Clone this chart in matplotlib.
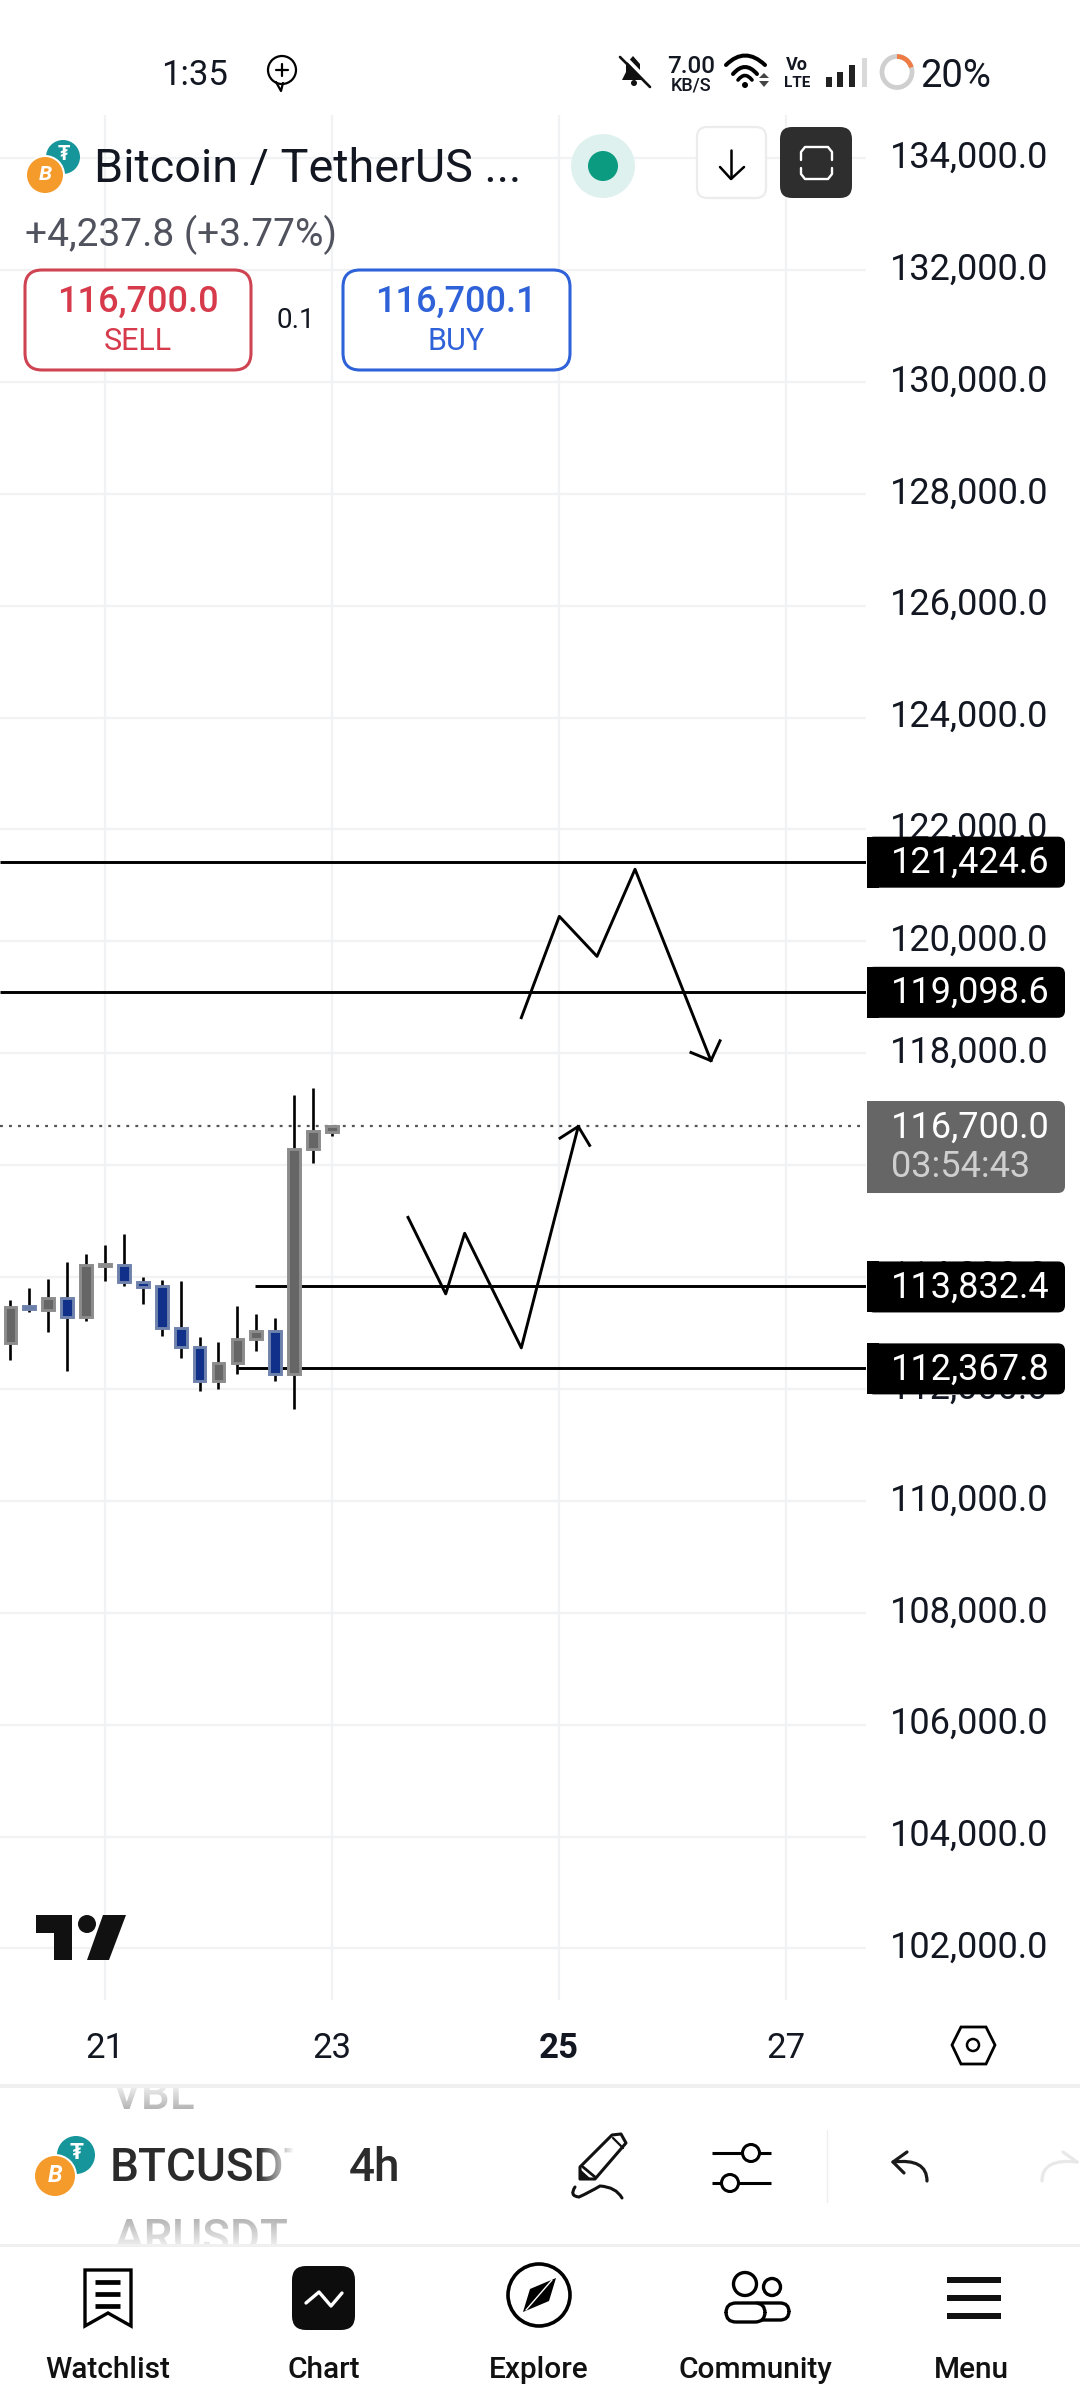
import numpy as np
import matplotlib
matplotlib.use('Agg')
import matplotlib.pyplot as plt
from matplotlib.patches import Circle, Ellipse, FancyBboxPatch, Polygon, Rectangle, Arc, PathPatch
from matplotlib.path import Path
from matplotlib.transforms import ScaledTranslation

plt.rcParams['font.family'] = ['Roboto', 'DejaVu Sans']

# candle data (4h)
candle_days = [20.1667, 20.3333, 20.5, 20.6667, 20.8333, 21.0, 21.1667, 21.3333, 21.5,
               21.6667, 21.8333, 22.0, 22.1667, 22.3333, 22.5, 22.6667, 22.8333, 23.0]
opens = [112820, 113480, 113420, 113623, 113284, 114199, 114211, 113908, 113837,
         113088, 112749, 112143, 112464, 112892, 113034, 112267, 116297, 116600]
highs = [113593, 113801, 113967, 114264, 114413, 114574, 114770, 113997, 113944,
         113932, 112933, 112844, 113486, 113343, 113272, 117248, 117385, 116713]
lows = [112511, 113367, 113010, 112315, 113207, 113938, 113848, 113527, 112939,
        112547, 111958, 112000, 112273, 112672, 112137, 111643, 116042, 116523]
closes = [113462, 113438, 113623, 113284, 114211, 114229, 113908, 113831, 113088,
          112749, 112143, 112464, 112892, 113034, 112267, 116297, 116606, 116695]

# horizontal levels drawn by the user
level_prices = [121424.6, 119098.6, 113832.4, 112367.8]
level_labels = ['121,424.6', '119,098.6', '113,832.4', '112,367.8']
level_starts = [20.075, 20.075, 22.32, 22.17]
last_price = 116700.0
last_label = '116,700.0'
countdown = '03:54:43'

# the two hand drawn paths with their arrow heads
up_path_days = [23.67, 24.002, 24.169, 24.668, 25.17]
up_path_prices = [115067, 113700, 114783, 112735, 116692]
up_head_days = [25.009, 25.17, 25.27]
up_head_prices = [116483, 116692, 116354]
down_path_days = [24.668, 25.003, 25.335, 25.67, 26.339]
down_path_prices = [118636, 120447, 119732, 121289, 117868]
down_head_days = [26.163, 26.339, 26.419]
down_head_prices = [118014, 117868, 118223]

price_ticks = list(range(102000, 136000, 2000))
day_ticks = [21, 23, 25, 27]
nav_labels = ['Watchlist', 'Chart', 'Explore', 'Community', 'Menu']

INK = '#131722'
UP_BODY, UP_EDGE = '#666666', '#8c8c8c'
DOWN_BODY, DOWN_EDGE = '#10308a', '#6f82ac'

fig = plt.figure(figsize=(10.8, 24), dpi=100, facecolor='white')

# price chart
ax = fig.add_axes([0, 400 / 2400, 866 / 1080, 1885 / 2400])
ax.set_xlim(20.075, 27.705)
ax.set_ylim(101079, 134770)
for spine in ax.spines.values():
    spine.set_visible(False)
ax.grid(True, color='#f1f2f4', linewidth=1.6)
ax.set_axisbelow(True)
ax.yaxis.tick_right()
ax.set_yticks(price_ticks)
ax.set_yticklabels([f'{p:,.1f}' for p in price_ticks])
ax.set_xticks(day_ticks)
ax.set_xticklabels([str(d) for d in day_ticks])
ax.tick_params(axis='y', length=0, pad=17.5, labelsize=26, labelcolor=INK)
ax.tick_params(axis='x', length=0, pad=23, labelsize=25, labelcolor=INK)
ax.get_xticklabels()[2].set_fontweight('bold')
# tick labels sit a little higher than matplotlib centres them
lift = ScaledTranslation(0, 3.2 / 72, fig.dpi_scale_trans)
for tick_label in ax.get_yticklabels():
    tick_label.set_transform(tick_label.get_transform() + lift)

for i, level in enumerate(level_prices):
    ax.hlines(level, level_starts[i], 27.705, color='black', linewidth=2.1, zorder=3)
ax.hlines(last_price, 20.075, 27.705, color='#555555', linewidth=1.6,
          linestyles=(0, (1.3, 2.76)), zorder=3)

for i in range(len(candle_days)):
    is_up = closes[i] >= opens[i]
    ax.vlines(candle_days[i], lows[i], highs[i], color='black', linewidth=1.9, zorder=4)
    ax.bar(candle_days[i], abs(closes[i] - opens[i]), bottom=min(opens[i], closes[i]),
           width=0.103, color=UP_BODY if is_up else DOWN_BODY,
           edgecolor=UP_EDGE if is_up else DOWN_EDGE, linewidth=2.1, zorder=5)

ax.plot(up_path_days, up_path_prices, color='black', linewidth=2.1, zorder=6)
ax.plot(up_head_days, up_head_prices, color='black', linewidth=2.1, zorder=6)
ax.plot(down_path_days, down_path_prices, color='black', linewidth=2.1, zorder=6)
ax.plot(down_head_days, down_head_prices, color='black', linewidth=2.1, zorder=6)

# everything else of the app screen, in pixel coordinates
ui = fig.add_axes([0, 0, 1, 1], zorder=10)
ui.set_xlim(0, 1080)
ui.set_ylim(2400, 0)
ui.axis('off')
ui.patch.set_alpha(0)


def label(x, y, text, size, color=INK, ha='center', weight='normal', **kw):
    # y is the middle of the capitals
    return ui.text(x, y + 0.355 * size / 0.72, text, fontsize=size, color=color, ha=ha,
                   va='baseline', fontweight=weight, **kw)


def round_box(x0, y0, x1, y1, r, fc='white', ec='none', lw=0, z=2):
    box = FancyBboxPatch((x0 + r, y0 + r), x1 - x0 - 2 * r, y1 - y0 - 2 * r,
                         boxstyle=f'round,pad={r},rounding_size={r}', fc=fc, ec=ec, lw=lw, zorder=z)
    ui.add_patch(box)


def stroke(xs, ys, lw=2.0, color='black', z=3, cap='round'):
    ui.plot(xs, ys, color=color, lw=lw, solid_capstyle=cap, solid_joinstyle='round', zorder=z)


def curve(points, lw=2.0, color='black', fc='none', z=3, closed=False):
    # quadratic bezier through the control points: start, ctrl, end, ctrl, end ...
    codes = [Path.MOVETO] + [Path.CURVE3] * (len(points) - 1)
    ui.add_patch(PathPatch(Path(points, codes, closed=False), fc=fc, ec=color, lw=lw, zorder=z,
                           capstyle='round'))


def price_y(price):
    return 2400 - ax.transData.transform((21, price))[1]


def coin_pair(tx, ty, tr, bx, by, br):
    ui.add_patch(Circle((tx, ty), tr, fc='#16959a', ec='none', zorder=2))
    ui.text(tx + 1, ty - 2, '₮', fontsize=tr * 0.85, color='white', ha='center', va='center',
            fontweight='bold', zorder=3)
    ui.add_patch(Circle((bx, by), br + 2, fc='white', ec='none', zorder=4))
    ui.add_patch(Circle((bx, by), br, fc='#f49b2c', ec='none', zorder=5))
    ui.text(bx, by, 'B', fontsize=br * 0.85, color='white', ha='center', va='center',
            fontweight='bold', style='italic', zorder=6)


# price tags on the axis
for level, text in zip(level_prices, level_labels):
    yc = price_y(level) + 0.5
    round_box(867, yc - 25.5, 1065, yc + 25.5, 7, fc='black', z=4)
    ui.add_patch(Rectangle((867, yc - 25.5), 12, 51, fc='black', ec='none', zorder=4))
    label(891, yc - 2, text, 26, color='white', ha='left', zorder=5)
yc = price_y(last_price)
round_box(867, yc - 25, 1065, yc + 67, 7, fc='#666666', z=4)
ui.add_patch(Rectangle((867, yc - 25), 12, 92, fc='#666666', ec='none', zorder=4))
label(891, yc - 1, last_label, 26, color='white', ha='left', zorder=5)
label(891, yc + 38, countdown, 26, color='#cfcfcf', ha='left', zorder=5)

# status bar
label(195, 73, '1:35', 25)
ui.add_patch(Circle((282, 70), 14, fc='none', ec='black', lw=1.6))
stroke([276, 281, 283], [82, 91, 83], lw=1.6)
stroke([276, 288], [70, 70], lw=1.6)
stroke([282, 282], [64, 76], lw=1.6)
ui.add_patch(Polygon([(622, 80), (626, 72), (626, 64), (633, 56), (640, 64), (640, 72), (645, 80)],
                     fc='#111111', ec='none'))
ui.add_patch(Circle((634, 83), 3, fc='#111111', ec='none'))
stroke([622, 652], [54, 85], lw=2.6, color='white', z=4)
stroke([620, 650], [57, 87], lw=1.9, color='#111111', z=5)
label(691, 64, '7.00', 17.4, weight='medium')
label(691, 84, 'KB/S', 13, weight='medium')
curve([(726, 65), (745, 46), (765, 65)], lw=2.9)
curve([(733, 74), (745, 60), (757, 74)], lw=2.9)
curve([(738, 80), (745, 71), (752, 80)], lw=2.6)
ui.add_patch(Circle((745, 85), 3, fc='black', ec='none'))
ui.add_patch(Polygon([(759, 78), (769, 78), (764, 73)], fc='#444444', ec='none'))
ui.add_patch(Polygon([(759, 81), (769, 81), (764, 87)], fc='#444444', ec='none'))
label(797, 64, 'Vo', 13, weight='bold')
label(797, 82, 'LTE', 11, weight='bold')
for x, top in zip([829, 840, 852], [77, 72, 65]):
    ui.add_patch(Rectangle((x - 3, top), 6, 87 - top, fc='#222222', ec='none'))
ui.add_patch(Rectangle((862, 58), 5, 29, fc='#d9d9d9', ec='none'))
ui.add_patch(Arc((897, 72), 30, 31, theta1=0, theta2=360, color='#cfcfcf', lw=3.4))
ui.add_patch(Arc((897, 72), 30, 31, theta1=-90, theta2=-18, color='#ef7b45', lw=3.4, zorder=3))
label(956, 73, '20%', 27.5)

# header
coin_pair(63, 157, 17, 45, 175, 18)
label(94, 165, 'Bitcoin / TetherUS ...', 33.7, ha='left', color='#131722')
label(25, 232, '+4,237.8 (+3.77%)', 28, ha='left', color='#50535e')
ui.add_patch(Circle((603, 166), 32, fc='#dff1ee', ec='none'))
ui.add_patch(Circle((603, 166), 15, fc='#0b9b80', ec='none'))
round_box(697, 127, 766, 198, 10, fc='white', ec='#ececec', lw=1.6)
stroke([731, 731], [150, 178], lw=1.8)
stroke([720, 731, 744], [167, 179, 167], lw=1.8)
round_box(780, 127, 852, 198, 12, fc='#2e2e2e')
stroke([801, 801, 805, 828, 832, 832], [160, 152, 147, 147, 152, 160], lw=1.7, color='white')
stroke([801, 801, 805, 828, 832, 832], [168, 174, 179, 179, 174, 168], lw=1.7, color='white')

round_box(25, 270, 251, 370, 17, fc='white', ec='#cf4452', lw=2.2)
label(138, 299, '116,700.0', 26, color='#d63a4b', weight='medium')
label(138, 339, 'SELL', 22, color='#d63a4b')
label(296, 318, '0.1', 20)
round_box(343, 270, 570, 370, 17, fc='white', ec='#2f62d8', lw=2.2)
label(456, 299, '116,700.1', 26, color='#2f62d8', weight='medium')
label(456, 339, 'BUY', 22, color='#2f62d8')

# tradingview logo and scale button
ui.add_patch(Polygon([(36, 1915), (72, 1915), (72, 1960), (54, 1960), (54, 1933), (36, 1933)],
                     fc='#111111', ec='none'))
ui.add_patch(Circle((87, 1924), 9, fc='#111111', ec='none'))
ui.add_patch(Polygon([(103, 1915), (126, 1915), (109, 1960), (87, 1960)], fc='#111111', ec='none'))
ui.add_patch(Polygon([(961, 2027), (986, 2027), (995, 2045), (986, 2064), (961, 2064), (952, 2045)],
                     fc='white', ec='black', lw=2))
ui.add_patch(Circle((973, 2045), 6, fc='white', ec='black', lw=1.8))

# symbol strip
ui.add_patch(Rectangle((0, 2084), 1080, 4, fc='#f0f0f0', ec='none', zorder=1))
ui.add_patch(Rectangle((0, 2244), 1080, 3, fc='#f0f0f0', ec='none', zorder=1))
for x, y, text, top, height in [(112, 2092.5, 'VBL', 2088, 40), (114, 2236, 'ARUSDT', 2205, 39)]:
    faded = label(x, y, text, 33, color='#9a9a9a', ha='left', weight='medium')
    faded.set_clip_path(Rectangle((0, top), 1080, height, transform=ui.transData))
    faded.set_clip_on(True)
fade = np.ones((64, 1, 4))
fade[:, 0, 3] = np.linspace(0.8, 0.25, 64)
ui.imshow(fade, extent=(100, 300, 2110, 2088), aspect='auto', zorder=8)
ui.imshow(fade[::-1], extent=(100, 300, 2244, 2218), aspect='auto', zorder=8)
coin_pair(76, 2155, 19, 55, 2176, 20)
label(110, 2165, 'BTCUSDT', 33, ha='left', weight='medium', color='#2b2b2b')
side = np.ones((1, 64, 4))
side[0, :, 3] = np.linspace(0, 1, 64)
ui.imshow(side, extent=(258, 294, 2210, 2120), aspect='auto', zorder=8)
ui.add_patch(Rectangle((294, 2120), 40, 90, fc='white', ec='none', zorder=8))
label(375, 2165, '4h', 33, weight='medium', color='#2b2b2b', zorder=9)
ui.set_xlim(0, 1080)
ui.set_ylim(2400, 0)

# pencil
ui.add_patch(Polygon([(580, 2179), (580, 2167), (612, 2135), (621, 2134), (626, 2143), (595, 2179)],
                     fc='white', ec='#111111', lw=2.2, joinstyle='round'))
stroke([583, 595], [2167, 2177], lw=2.0, color='#111111')
stroke([613, 623], [2138, 2148], lw=1.6, color='#111111')
ui.add_patch(Polygon([(580, 2179), (580, 2169), (591, 2179)], fc='#111111', ec='none', zorder=3))
curve([(575, 2187), (569, 2196), (579, 2197), (590, 2192), (600, 2186), (616, 2187), (622, 2198)],
      lw=2.2, color='#111111')
# settings sliders
stroke([712, 771], [2153, 2153], lw=2.2, cap='butt')
stroke([712, 771], [2183, 2183], lw=2.2, cap='butt')
ui.add_patch(Circle((751, 2153), 8.5, fc='white', ec='black', lw=2.2, zorder=4))
ui.add_patch(Circle((730, 2183), 8.5, fc='white', ec='black', lw=2.2, zorder=4))
stroke([827, 827], [2130, 2202], lw=1.0, color='#eeeeee')
# undo and redo
curve([(893, 2162), (927, 2158), (927, 2181)], lw=2.3, color='#1a1a1a')
stroke([907, 893, 904], [2152, 2162, 2173], lw=2.3, color='#1a1a1a')
curve([(1077, 2162), (1042, 2158), (1042, 2181)], lw=2.3, color='#e8e8e8')
stroke([1063, 1077], [2152, 2162], lw=2.3, color='#e8e8e8')

# bottom navigation
for x, text in zip([108, 324, 539, 755, 971], nav_labels):
    label(x, 2367, text, 21.5, weight='medium', color='#111111')
ui.add_patch(Polygon([(85, 2270), (131, 2270), (131, 2326), (108, 2313), (85, 2326)],
                     fc='white', ec='black', lw=2.4))
for y in [2282, 2294, 2306]:
    stroke([95, 120], [y, y], lw=3.4, cap='butt')
round_box(292, 2266, 355, 2330, 14, fc='#0d0d0d')
stroke([306, 319, 331, 342], [2303, 2292, 2306, 2293], lw=2.4, color='white')
ui.add_patch(Circle((539, 2295), 31, fc='white', ec='black', lw=2.6))
ui.add_patch(Polygon([(556, 2278), (549, 2301), (523, 2312), (530, 2289)], fc='black', ec='none'))
stroke([526, 552], [2310, 2280], lw=1.0, color='white')
# community: back person first, front person over it
ui.add_patch(Circle((772, 2287), 8.5, fc='white', ec='black', lw=2.4))
ui.add_patch(FancyBboxPatch((750, 2303), 39, 17, boxstyle='round,pad=0,rounding_size=9', fc='white',
                            ec='black', lw=2.4))
ui.add_patch(Circle((745, 2284), 11.5, fc='white', ec='black', lw=2.4))
ui.add_patch(FancyBboxPatch((726, 2303), 39, 19, boxstyle='round,pad=0,rounding_size=10', fc='white',
                            ec='black', lw=2.4))
for y in [2280, 2298, 2316]:
    ui.add_patch(Rectangle((947, y - 3), 54, 6, fc='#111111', ec='none'))

fig.savefig('out.png', dpi=100)
